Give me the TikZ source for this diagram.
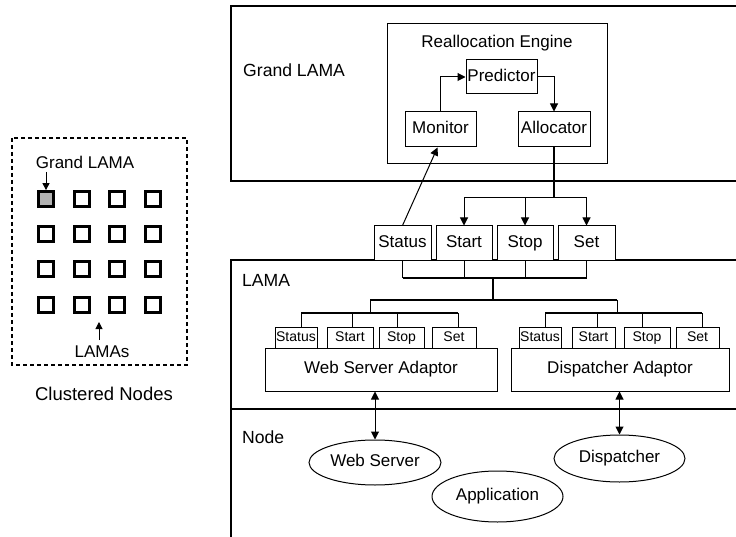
\documentclass[tikz,border=0pt]{standalone}
\usepackage{fontspec}
\setmainfont{Liberation Sans}
\usetikzlibrary{arrows.meta,shapes.geometric,calc}

\begin{document}
\begin{tikzpicture}[x=1pt,y=-1pt,
  every node/.style={font=\fontsize{17}{20}\selectfont, inner sep=0pt},
  blk/.style={draw, line width=1pt, fill=white, text height=12.3pt, text depth=3.6pt},
  smallbox/.style={blk, font=\fontsize{14}{16}\selectfont, minimum height=21pt,
    text height=10.1pt, text depth=3pt},
  cmdbox/.style={blk, minimum height=35pt},
  ell/.style={ellipse, draw, line width=1pt, fill=white, text height=12.3pt, text depth=3.6pt},
  thin/.style={line width=1pt},
  mid/.style={line width=1.7pt},
  heavy/.style={line width=2.7pt},
  arr/.style={-{Triangle[length=8pt,width=8pt]}},
  darr/.style={{Triangle[length=8pt,width=8pt]}-{Triangle[length=8pt,width=8pt]}},
  cell/.style={draw, line width=2.8pt, minimum width=15pt, minimum height=15pt},
]
\useasboundingbox (0,0) rectangle (736,537);

% ---------- clustered nodes panel ----------
\draw[line width=1.8pt, dash pattern=on 4pt off 3pt] (12,138) rectangle (187,365);
\foreach \r/\yy in {1/199,2/234,3/269,4/305}{
  \foreach \c/\xx in {1/46,2/82,3/117,4/153}{
    \node[cell] (sq-\r-\c) at (\xx,\yy) {};
  }
}
\node[cell, fill=black!30] at (sq-1-1) {};
\node[anchor=base] (glabel) at (85,169) {Grand LAMA};
\coordinate (gtail) at (46,172);
\draw[thin, -{Triangle[length=7pt,width=7pt]}] (gtail) -- (sq-1-1.north);
\node[anchor=base] (lamas) at (102,357) {LAMAs};
\coordinate (ltail) at (99,340);
\coordinate (ltip) at (99,322);
\draw[thin, -{Triangle[length=7pt,width=7pt]}] (ltail) -- (ltip);
\node[anchor=base, font=\fontsize{18.5}{22}\selectfont] (cluster) at (104,400) {Clustered Nodes};

% ---------- layer frames ----------
\draw[heavy] (740,6) -- (231,6) -- (231,181) -- (740,181);
\draw[heavy] (740,260) -- (231,260) -- (231,540);
\draw[heavy] (231,409) -- (740,409);
\node[anchor=base west, font=\fontsize{17.6}{21}\selectfont] (lgrand) at (243,77) {Grand LAMA};
\node[anchor=base west, font=\fontsize{17.6}{21}\selectfont] (llama) at (242,287) {LAMA};
\node[anchor=base west, font=\fontsize{17.6}{21}\selectfont] (lnode) at (242,443) {Node};

% ---------- reallocation engine ----------
\node[draw, line width=1pt, fill=white, minimum width=220pt, minimum height=140pt] (engine) at (497,94) {};
\node[anchor=base] (enginet) at (497,48) {Reallocation Engine};
\node[blk, minimum width=71pt, minimum height=34pt] (pred) at (501.5,77) {Predictor};
\node[blk, minimum width=71pt, minimum height=35pt] (mon) at (440.5,129.5) {Monitor};
\node[blk, minimum width=72pt, minimum height=35pt] (alloc) at (554,129.5) {Allocator};
\draw[thin, arr] (mon.north) |- (pred.west);
\draw[thin, arr] (pred.east) -| (alloc.north);

% ---------- Grand LAMA command boxes ----------
\node[cmdbox, minimum width=57pt] (status) at (402.5,243.5) {Status};
\node[cmdbox, minimum width=56pt] (start) at (464,243.5) {Start};
\node[cmdbox, minimum width=56pt] (stop) at (525,243.5) {Stop};
\node[cmdbox, minimum width=57pt] (set) at (586.5,243.5) {Set};

\coordinate (fork) at (554,198);
\draw[heavy] (alloc.south) -- (fork);
\draw[thin] (start.north |- fork) -- (set.north |- fork);
\foreach \b in {start,stop,set}{
  \draw[thin, arr] (\b.north |- fork) -- (\b.north);
}
\draw[thin, arr] (status.north) -- ($(mon.south)+(-3,0)$);

\coordinate (join) at (493,278);
\coordinate (split) at (493,300);
\foreach \b in {status,start,stop,set}{
  \draw[thin] (\b.south) -- (\b.south |- join);
}
\draw[heavy] (status.south |- join) -- (set.south |- join);
\draw[heavy] (join) -- (split);
\coordinate (wsbus) at (370,313);
\coordinate (dpbus) at (617,313);
\draw[mid] (wsbus |- split) -- (dpbus |- split);
\draw[thin] (wsbus |- split) -- (wsbus);
\draw[thin] (dpbus |- split) -- (dpbus);

% ---------- adaptors ----------
\node[blk, minimum width=232pt, minimum height=43pt] (wsa) at (381,369.5) {Web Server Adaptor};
\node[blk, minimum width=218pt, minimum height=43pt] (dpa) at (620,369.5) {Dispatcher Adaptor};

\node[smallbox, minimum width=42pt] (wstatus) at (296,337.5) {Status};
\node[smallbox, minimum width=46pt] (wstart) at (350,337.5) {Start};
\node[smallbox, minimum width=45pt] (wstop) at (401.5,337.5) {Stop};
\node[smallbox, minimum width=44pt] (wset) at (454,337.5) {Set};
\node[smallbox, minimum width=42pt] (dstatus) at (540,337.5) {Status};
\node[smallbox, minimum width=43pt] (dstart) at (593.5,337.5) {Start};
\node[smallbox, minimum width=46pt] (dstop) at (647,337.5) {Stop};
\node[smallbox, minimum width=43pt] (dset) at (697.5,337.5) {Set};

\coordinate (w1) at (301,313); \coordinate (w2) at (352,313);
\coordinate (w3) at (397,313); \coordinate (w4) at (458,313);
\coordinate (d1) at (545,313); \coordinate (d2) at (597,313);
\coordinate (d3) at (642,313); \coordinate (d4) at (702,313);
\draw[heavy] (w1) -- (w4);
\draw[heavy] (d1) -- (d4);
\draw[thin] (w1) -- (w1 |- wstatus.north);
\draw[thin] (w2) -- (w2 |- wstart.north);
\draw[thin] (w3) -- (w3 |- wstop.north);
\draw[thin] (w4) -- (w4 |- wset.north);
\draw[thin] (d1) -- (d1 |- dstatus.north);
\draw[thin] (d2) -- (d2 |- dstart.north);
\draw[thin] (d3) -- (d3 |- dstop.north);
\draw[thin] (d4) -- (d4 |- dset.north);

% ---------- node processes ----------
\node[ell, minimum width=132pt, minimum height=45pt] (websrv) at (375,462.5) {Web Server};
\node[ell, minimum width=131pt, minimum height=47pt] (disp) at (619.5,458.5) {Dispatcher};
\node[ell, minimum width=131pt, minimum height=51pt] (app) at (497.5,496.5) {Application};
\draw[thin, darr] (websrv.north |- wsa.south) -- (websrv.north);
\draw[thin, darr] (disp.north |- dpa.south) -- (disp.north);
\end{tikzpicture}
\end{document}
